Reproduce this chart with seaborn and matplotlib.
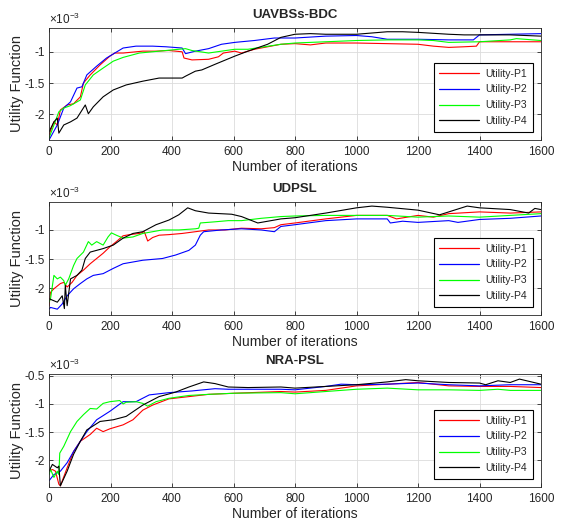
import matplotlib
matplotlib.use("Agg")
import matplotlib.pyplot as plt
import seaborn as sns
import pandas as pd
from matplotlib.ticker import FuncFormatter, MultipleLocator

# ---------------- data (values in units of 1e-3) ----------------
titles = ["UAVBSs-BDC", "UDPSL", "NRA-PSL"]
series_names = ["Utility-P1", "Utility-P2", "Utility-P3", "Utility-P4"]

# Panel 1: UAVBSs-BDC
bdc_p1_x = [0,16,27,37,59,80,102,112,134,166,198,214,241,305,348,390,433,439,465,519,551,567,604,626,668,754,800,850,900,1000,1100,1200,1250,1300,1350,1390,1400,1500,1600]
bdc_p1_y = [-2.33,-2.12,-2.17,-1.93,-1.85,-1.83,-1.72,-1.50,-1.37,-1.21,-1.07,-1.02,-1.02,-0.99,-0.99,-0.98,-1.00,-1.10,-1.13,-1.12,-1.08,-1.02,-0.99,-1.02,-0.96,-0.88,-0.87,-0.89,-0.86,-0.86,-0.87,-0.88,-0.91,-0.93,-0.92,-0.91,-0.84,-0.84,-0.84]
bdc_p2_x = [0,27,48,70,91,107,123,155,187,214,241,283,337,380,433,444,476,519,561,604,668,733,800,900,1000,1050,1100,1200,1300,1380,1400,1500,1600]
bdc_p2_y = [-2.41,-2.17,-1.90,-1.80,-1.58,-1.56,-1.37,-1.23,-1.10,-1.02,-0.94,-0.91,-0.91,-0.92,-0.94,-1.03,-0.99,-0.95,-0.88,-0.85,-0.82,-0.78,-0.78,-0.75,-0.74,-0.76,-0.80,-0.80,-0.81,-0.81,-0.73,-0.72,-0.71]
bdc_p3_x = [0,16,32,48,70,102,118,144,176,209,241,294,358,422,444,465,519,561,604,647,754,800,900,1000,1100,1200,1250,1300,1400,1500,1520,1600]
bdc_p3_y = [-2.38,-2.17,-1.96,-1.90,-1.86,-1.77,-1.53,-1.37,-1.26,-1.15,-1.09,-1.02,-0.99,-0.96,-0.95,-0.98,-1.02,-0.99,-0.96,-0.96,-0.88,-0.86,-0.84,-0.82,-0.81,-0.81,-0.82,-0.85,-0.84,-0.81,-0.79,-0.82]
bdc_p4_x = [0,16,27,32,48,70,91,118,128,144,176,209,251,305,358,390,433,444,476,497,540,604,647,711,754,800,850,900,1000,1050,1100,1150,1200,1300,1350,1400,1500,1600]
bdc_p4_y = [-2.28,-2.12,-2.06,-2.30,-2.17,-2.12,-2.06,-1.85,-1.99,-1.88,-1.72,-1.61,-1.53,-1.47,-1.42,-1.42,-1.42,-1.39,-1.31,-1.29,-1.20,-1.07,-0.99,-0.88,-0.77,-0.72,-0.71,-0.72,-0.72,-0.70,-0.68,-0.68,-0.69,-0.72,-0.73,-0.73,-0.73,-0.75]

# Panel 2: UDPSL
udp_p1_x = [0,5,16,37,48,59,75,91,112,134,155,176,198,219,241,262,294,310,321,337,358,390,433,476,519,572,626,690,733,754,800,900,1000,1100,1130,1200,1250,1300,1400,1500,1600]
udp_p1_y = [-2.30,-2.07,-2.01,-1.92,-1.90,-1.98,-1.90,-1.78,-1.69,-1.58,-1.49,-1.40,-1.29,-1.20,-1.10,-1.08,-1.06,-1.03,-1.19,-1.13,-1.09,-1.08,-1.06,-1.03,-1.00,-1.00,-0.97,-0.98,-0.96,-0.91,-0.88,-0.81,-0.75,-0.75,-0.81,-0.75,-0.78,-0.72,-0.69,-0.71,-0.69]
udp_p2_x = [0,5,27,43,59,80,102,123,144,176,209,241,305,369,412,455,476,492,503,561,626,690,733,754,800,900,1000,1100,1110,1150,1200,1300,1330,1400,1500,1600]
udp_p2_y = [-2.36,-2.33,-2.36,-2.27,-2.13,-2.01,-1.92,-1.84,-1.78,-1.75,-1.66,-1.58,-1.52,-1.49,-1.43,-1.35,-1.26,-1.09,-1.03,-1.00,-0.98,-1.00,-1.03,-0.94,-0.91,-0.84,-0.81,-0.81,-0.88,-0.85,-0.87,-0.84,-0.87,-0.82,-0.80,-0.76]
udp_p3_x = [0,5,16,27,37,48,53,64,80,91,112,128,139,155,176,192,203,219,241,273,305,369,422,476,487,492,540,583,626,690,754,800,900,1000,1100,1200,1300,1400,1500,1600]
udp_p3_y = [-2.24,-2.18,-1.78,-1.84,-1.81,-1.87,-1.95,-1.84,-1.61,-1.49,-1.38,-1.20,-1.26,-1.20,-1.26,-1.12,-1.05,-1.09,-1.14,-1.12,-1.06,-1.00,-1.00,-0.98,-0.97,-0.88,-0.86,-0.84,-0.84,-0.80,-0.77,-0.76,-0.75,-0.75,-0.75,-0.78,-0.76,-0.78,-0.75,-0.72]
udp_p4_x = [0,27,43,50,53,59,70,91,107,118,134,176,209,241,273,305,348,390,422,451,476,519,594,626,679,733,754,800,900,1000,1050,1100,1200,1270,1300,1360,1400,1500,1560,1580,1600]
udp_p4_y = [-2.18,-2.24,-2.13,-2.35,-1.95,-2.30,-1.84,-1.78,-1.69,-1.49,-1.38,-1.32,-1.26,-1.14,-1.06,-1.03,-0.91,-0.83,-0.74,-0.62,-0.67,-0.71,-0.73,-0.77,-0.88,-0.83,-0.81,-0.79,-0.71,-0.62,-0.59,-0.61,-0.66,-0.74,-0.69,-0.59,-0.62,-0.65,-0.71,-0.63,-0.65]

# Panel 3: NRA-PSL
nra_p1_x = [0,11,21,32,37,59,80,102,134,155,176,198,241,273,305,337,390,455,519,604,754,800,900,1000,1100,1200,1300,1400,1500,1600]
nra_p1_y = [-2.19,-2.16,-2.19,-2.42,-2.45,-2.13,-1.84,-1.66,-1.54,-1.43,-1.49,-1.44,-1.37,-1.28,-1.11,-1.02,-0.91,-0.87,-0.83,-0.81,-0.78,-0.79,-0.76,-0.68,-0.65,-0.62,-0.68,-0.69,-0.69,-0.71]
nra_p2_x = [0,16,37,59,80,102,123,155,198,241,283,326,390,465,540,583,679,754,800,900,950,1000,1100,1200,1300,1400,1500,1600]
nra_p2_y = [-2.36,-2.25,-2.19,-2.04,-1.84,-1.66,-1.49,-1.28,-1.13,-0.96,-0.96,-0.84,-0.80,-0.77,-0.73,-0.74,-0.74,-0.74,-0.75,-0.69,-0.65,-0.66,-0.65,-0.63,-0.66,-0.68,-0.66,-0.66]
nra_p3_x = [0,5,16,27,32,35,48,70,91,112,134,155,176,198,230,241,251,283,305,321,348,390,455,519,604,754,800,900,1000,1100,1200,1300,1400,1460,1500,1600]
nra_p3_y = [-2.25,-2.16,-2.30,-2.19,-2.25,-1.87,-1.75,-1.49,-1.31,-1.19,-1.08,-1.09,-0.99,-0.96,-0.94,-1.00,-0.97,-0.96,-0.99,-1.04,-0.96,-0.90,-0.85,-0.83,-0.81,-0.80,-0.82,-0.78,-0.74,-0.72,-0.75,-0.75,-0.76,-0.74,-0.76,-0.76]
nra_p4_x = [0,11,27,32,37,59,80,102,123,166,209,251,305,358,412,455,503,540,583,647,754,800,900,1000,1100,1160,1200,1300,1400,1420,1460,1500,1530,1600]
nra_p4_y = [-2.19,-2.07,-2.13,-2.10,-2.45,-2.19,-1.89,-1.66,-1.46,-1.31,-1.28,-1.22,-1.02,-0.87,-0.79,-0.70,-0.61,-0.64,-0.70,-0.71,-0.70,-0.72,-0.69,-0.66,-0.61,-0.57,-0.59,-0.62,-0.63,-0.66,-0.59,-0.62,-0.56,-0.65]

panels = [
    [(bdc_p1_x, bdc_p1_y), (bdc_p2_x, bdc_p2_y), (bdc_p3_x, bdc_p3_y), (bdc_p4_x, bdc_p4_y)],
    [(udp_p1_x, udp_p1_y), (udp_p2_x, udp_p2_y), (udp_p3_x, udp_p3_y), (udp_p4_x, udp_p4_y)],
    [(nra_p1_x, nra_p1_y), (nra_p2_x, nra_p2_y), (nra_p3_x, nra_p3_y), (nra_p4_x, nra_p4_y)],
]
ylims = [(-2.41, -0.62), (-2.46, -0.52), (-2.47, -0.47)]
colors = ["#ff0000", "#0000ff", "#00ff00", "#000000"]

# ---------------- style ----------------
sns.set_style("ticks")
plt.rcParams["font.family"] = ["Liberation Sans", "DejaVu Sans"]
plt.rcParams["mathtext.default"] = "regular"
plt.rcParams["axes.unicode_minus"] = False

fig = plt.figure(figsize=(5.64, 5.26), dpi=100)
L, W = 49 / 564, 492 / 564
tops = [28, 202, 374]
bots = [140, 315, 487]

frame_c = "#262626"
for i in range(3):
    b = 1 - bots[i] / 526
    h = (bots[i] - tops[i]) / 526
    ax = fig.add_axes([L, b, W, h])
    rows = []
    for name, (xs, ys) in zip(series_names, panels[i]):
        for x, y in zip(xs, ys):
            rows.append({"iter": x, "val": y * 1e-3, "series": name})
    df = pd.DataFrame(rows)
    sns.lineplot(data=df, x="iter", y="val", hue="series", palette=colors,
                 sort=False, estimator=None, ax=ax, linewidth=0.8, legend=True)
    leg0 = ax.get_legend()
    handles = leg0.legend_handles
    labels = [t.get_text() for t in leg0.get_texts()]
    leg0.remove()
    leg = ax.legend(handles, labels, loc="lower right", fontsize=7.5,
                    frameon=True, fancybox=False, edgecolor="black",
                    handlelength=3.8, handletextpad=0.6, borderpad=0.55,
                    labelspacing=0.55, borderaxespad=0.8, framealpha=1)
    leg.get_frame().set_linewidth(0.8)
    for hl in leg.get_lines():
        hl.set_linewidth(0.9)

    ax.set_xlim(0, 1600)
    ax.set_ylim(ylims[i][0] * 1e-3, ylims[i][1] * 1e-3)
    ax.xaxis.set_major_locator(MultipleLocator(200))
    ax.yaxis.set_major_locator(MultipleLocator(0.5e-3))
    ax.yaxis.set_major_formatter(FuncFormatter(lambda v, p: f"{v * 1e3:g}"))
    ax.grid(True, color="#dcdcdc", linewidth=0.6)
    ax.set_axisbelow(True)
    ax.tick_params(direction="in", length=3, width=0.6, labelsize=8.5,
                   colors=frame_c, top=True, right=True)
    ax.tick_params(axis="x", pad=4)
    ax.tick_params(axis="y", pad=3)
    for s in ax.spines.values():
        s.set_color(frame_c)
        s.set_linewidth(0.6)
    ax.set_xlabel("Number of iterations", fontsize=10, color=frame_c, labelpad=2)
    ax.set_ylabel("Utility Function", fontsize=10.5, color=frame_c, labelpad=0)
    ax.set_title(titles[i], fontsize=9.5, fontweight="bold", pad=7)
    ax.text(0, 1.01, r"$\times10^{-3}$", transform=ax.transAxes, ha="left",
            va="bottom", fontsize=8.5, color=frame_c)

fig.savefig("out.png", dpi=100)
